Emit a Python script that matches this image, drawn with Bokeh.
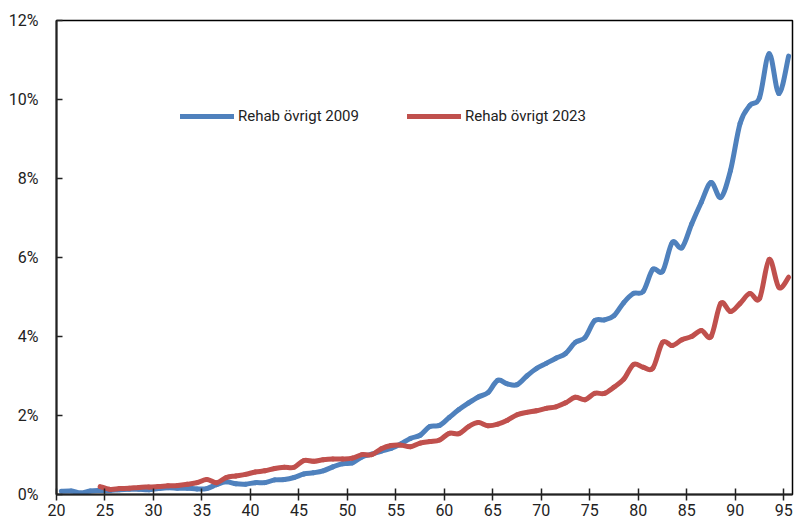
import numpy as np
from bokeh.plotting import figure
from bokeh.models import (ColumnDataSource, Range1d, FixedTicker, PrintfTickFormatter,
                          Legend, LegendItem)
from bokeh.embed import file_html
from bokeh.resources import INLINE

# ---- data (percent of population, by age) ----
ages_2009 = list(range(20, 96))
rehab_2009 = [0.08, 0.09, 0.04, 0.09, 0.10, 0.10, 0.12, 0.13, 0.13, 0.12,
              0.15, 0.17, 0.16, 0.16, 0.14, 0.15, 0.25, 0.32, 0.27, 0.26,
              0.30, 0.30, 0.37, 0.38, 0.43, 0.52, 0.55, 0.60, 0.70, 0.78,
              0.80, 0.95, 1.02, 1.10, 1.17, 1.28, 1.42, 1.50, 1.72, 1.75,
              1.95, 2.15, 2.32, 2.47, 2.58, 2.89, 2.80, 2.78, 3.00, 3.19,
              3.32, 3.45, 3.57, 3.85, 3.97, 4.40, 4.42, 4.53, 4.86, 5.09,
              5.14, 5.70, 5.65, 6.38, 6.25, 6.85, 7.40, 7.90, 7.52, 8.20,
              9.40, 9.85, 10.05, 11.16, 10.15, 11.10]

ages_2023 = list(range(24, 96))
rehab_2023 = [0.20, 0.13, 0.15, 0.16, 0.18, 0.19, 0.20, 0.22, 0.23, 0.26,
              0.30, 0.38, 0.30, 0.43, 0.47, 0.51, 0.57, 0.60, 0.66, 0.69,
              0.69, 0.86, 0.84, 0.88, 0.90, 0.90, 0.92, 1.01, 1.01, 1.16,
              1.24, 1.25, 1.21, 1.30, 1.34, 1.38, 1.55, 1.54, 1.72, 1.82,
              1.74, 1.78, 1.88, 2.02, 2.08, 2.12, 2.18, 2.22, 2.32, 2.46,
              2.40, 2.56, 2.56, 2.72, 2.92, 3.29, 3.22, 3.20, 3.85, 3.77,
              3.92, 4.00, 4.15, 4.00, 4.84, 4.63, 4.84, 5.09, 4.96, 5.95,
              5.24, 5.50]

x_ticks = list(range(20, 96, 5))
y_ticks = [0, 2, 4, 6, 8, 10, 12]
series_names = ["Rehab övrigt 2009", "Rehab övrigt 2023"]
colors = ["#4F81BD", "#C0504D"]

FONT = "Roboto"
FSIZE = "16px"


def smooth_segments(ages, vals):
    """Bezier segments (Excel-style smoothed line) through the data points."""
    x = np.asarray(ages, dtype=float) + 0.5   # points sit mid-category
    y = np.asarray(vals, dtype=float)
    xp = np.concatenate([[x[0]], x, [x[-1]]])
    yp = np.concatenate([[y[0]], y, [y[-1]]])
    t = 1.0 / 6.0
    x0, y0, x1, y1 = x[:-1], y[:-1], x[1:], y[1:]
    cx0 = x0 + (xp[2:-1] - xp[:-3]) * t
    cy0 = y0 + (yp[2:-1] - yp[:-3]) * t
    cx1 = x1 - (xp[3:] - xp[1:-2]) * t
    cy1 = y1 - (yp[3:] - yp[1:-2]) * t
    return ColumnDataSource(dict(x0=x0, y0=y0, x1=x1, y1=y1,
                                 cx0=cx0, cy0=cy0, cx1=cx1, cy1=cy1))


p = figure(width=797, height=526, output_backend="svg", toolbar_location=None,
           x_range=Range1d(20, 95.9), y_range=Range1d(0, 12),
           min_border_left=56, min_border_right=5, min_border_top=20,
           min_border_bottom=32)
p.background_fill_color = "white"
p.border_fill_color = "white"
p.outline_line_color = "black"
p.outline_line_width = 1.5
p.xgrid.visible = False
p.ygrid.visible = False

rs = []
for ages, vals, col in ((ages_2009, rehab_2009, colors[0]),
                        (ages_2023, rehab_2023, colors[1])):
    rs.append(p.bezier(x0="x0", y0="y0", x1="x1", y1="y1", cx0="cx0", cy0="cy0",
                       cx1="cx1", cy1="cy1", source=smooth_segments(ages, vals),
                       line_color=col, line_width=5, line_cap="round"))

# axes
p.xaxis.ticker = FixedTicker(ticks=x_ticks)
p.yaxis.ticker = FixedTicker(ticks=y_ticks)
p.yaxis.formatter = PrintfTickFormatter(format="%d%%")
for ax in (p.xaxis[0], p.yaxis[0]):
    ax.axis_line_color = "#222222"
    ax.axis_line_width = 2
    ax.major_tick_line_color = "#222222"
    ax.major_tick_line_width = 1.5
    ax.minor_tick_line_color = None
    ax.major_label_text_font = FONT
    ax.major_label_text_font_size = FSIZE
    ax.major_label_text_color = "#222222"
p.xaxis.major_tick_in = 6
p.xaxis.major_tick_out = 6
p.xaxis.major_label_standoff = 3
p.yaxis.major_tick_in = 6
p.yaxis.major_tick_out = 0
p.yaxis.major_label_standoff = 18

legend = Legend(items=[LegendItem(label=series_names[0], renderers=[rs[0]]),
                       LegendItem(label=series_names[1], renderers=[rs[1]])],
                orientation="horizontal", location=(124, 368),
                glyph_width=54, glyph_height=20, label_standoff=4, spacing=48,
                padding=0, margin=0, border_line_color=None,
                background_fill_alpha=0,
                label_text_font=FONT, label_text_font_size="15px",
                label_text_color="#222222")
p.add_layout(legend, "center")

open("out.html", "w").write(file_html(p, INLINE))
